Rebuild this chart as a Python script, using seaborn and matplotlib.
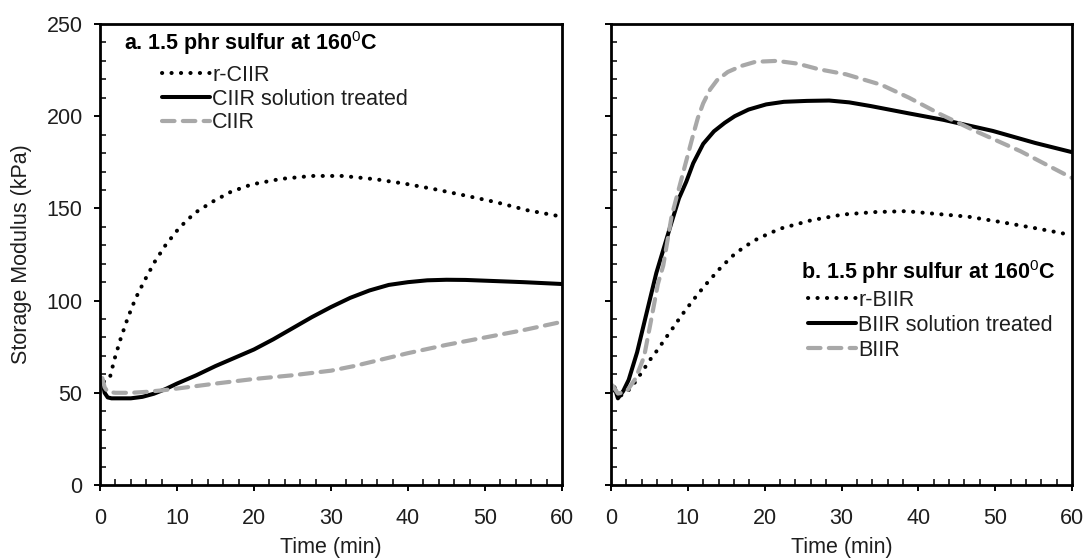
import numpy as np
import pandas as pd
import matplotlib
matplotlib.use("Agg")
import matplotlib.pyplot as plt
from matplotlib.ticker import MultipleLocator
import seaborn as sns

# ---- data (panel a) ----
t_rciir = [0.5, 1.25, 1.9, 2.7, 3.6, 4.6, 5.8, 7.1, 8.5, 10.3, 12.3, 14.6, 17.0, 19.7, 23.5,
           27.5, 31.5, 35.8, 39.6, 43.6, 47.4, 51.4, 55.5, 60]
v_rciir = [56, 57.7, 68.5, 79.6, 90.5, 101, 111, 121, 130, 139.5, 147.5, 153.6, 159, 163, 166,
           167.6, 167.6, 165.8, 163.4, 160.3, 157, 153.4, 149, 145.5]
t_ciir_sol = [0.3, 0.6, 1.0, 1.5, 2.5, 4, 5.5, 7, 8.5, 10, 12.5, 15, 17.5, 20, 22.5, 25, 27.5,
              30, 32.5, 35, 37.5, 40, 42.5, 45, 47.5, 50, 55, 60]
v_ciir_sol = [57, 50, 47.5, 47, 47, 47, 47.8, 49.5, 52, 55, 59.5, 64.5, 69, 73.5, 79, 85, 91,
              96.5, 101.5, 105.5, 108.5, 110, 111, 111.3, 111.2, 110.8, 110, 109]
t_ciir = [0.3, 0.6, 1.0, 2, 4, 6, 8, 10, 15, 20, 25, 30, 33, 36, 40, 45, 50, 55, 60]
v_ciir = [58, 53, 50.5, 50, 50, 50.5, 51.3, 52.3, 55, 57.5, 59.5, 62, 64.5, 67.5, 71.5, 76, 80,
          84, 88.5]

# ---- data (panel b) ----
t_rbiir = [0.5, 1.0, 2.0, 3.0, 3.9, 5.1, 6.1, 7.0, 8.2, 9.1, 10, 11.3, 12.5, 14.3, 15.9, 17.3,
           19.1, 22, 26.1, 30.2, 34.3, 38.4, 42.4, 46.5, 50.6, 55.6, 60]
v_rbiir = [51, 48, 50, 55, 60.5, 68, 73.5, 79, 86, 91.5, 96.5, 103.5, 109.5, 118, 124.5, 129,
           133.6, 139, 143.6, 146.7, 148, 148.5, 147, 145.5, 142.7, 139, 135.5]
t_biir_sol = [0.45, 0.9, 1.6, 2.3, 3.4, 4.5, 5.9, 7.9, 8.85, 9.8, 10.7, 12.0, 13.4, 14.8, 16.1,
              17.9, 20.2, 22.5, 25.5, 28.4, 31, 33.8, 38.8, 43.3, 49.7, 55.2, 60]
v_biir_sol = [53, 47, 51, 57, 72, 91, 115, 142.7, 155.5, 164.5, 174.5, 185, 191.8, 196.4, 200,
              203.6, 206.4, 207.8, 208.3, 208.5, 207.5, 205.5, 201.5, 198, 192, 185.5, 180.5]
t_biir = [0.2, 0.9, 2.0, 3.2, 4.3, 5.2, 6.1, 6.8, 7.9, 9.3, 10.7, 11.3, 12.0, 12.9, 13.8, 15.2,
          17.0, 18.8, 21.6, 24.3, 27, 30.6, 35.2, 38.8, 42.9, 47.4, 53.3, 60]
v_biir = [54, 49.6, 50.5, 57.8, 69.5, 89, 109, 119, 146, 168, 190, 199, 207, 214.5, 219.5, 224,
          227.3, 229.5, 230, 228.5, 225.5, 222.7, 217, 210, 201, 192, 181, 166.5]

labels_a = ["r-CIIR", "CIIR solution treated", "CIIR"]
labels_b = ["r-BIIR", "BIIR solution treated", "BIIR"]
title_a = r"a. 1.5 phr sulfur at 160$^{0}$C"
title_b = r"b. 1.5 phr sulfur at 160$^{0}$C"

sns.set_theme(style="ticks")
plt.rcParams["font.family"] = ["Liberation Sans", "DejaVu Sans"]
plt.rcParams["mathtext.fontset"] = "custom"
plt.rcParams["mathtext.rm"] = "Liberation Sans"
plt.rcParams["mathtext.it"] = "Liberation Sans"
plt.rcParams["mathtext.bf"] = "Liberation Sans:bold"

FS = 15.5
GRAY = "#a8a8a8"
TXT = "#1e1e1e"
styles = [
    dict(color="black", lw=2.9, linestyle=(0, (0.05, 2.3)), solid_capstyle="round",
         dash_capstyle="round"),
    dict(color="black", lw=2.9, linestyle="-"),
    dict(color=GRAY, lw=3.0, linestyle=(0, (3.0, 2.0)), dash_capstyle="round"),
]

fig = plt.figure(figsize=(10.86, 5.6), dpi=100)
ax1 = fig.add_axes([100/1086, 1-485/560, 462/1086, 461/560])
ax2 = fig.add_axes([611/1086, 1-485/560, 461/1086, 461/560])

series_a = [(t_rciir, v_rciir), (t_ciir_sol, v_ciir_sol), (t_ciir, v_ciir)]
series_b = [(t_rbiir, v_rbiir), (t_biir_sol, v_biir_sol), (t_biir, v_biir)]

for ax, series, labels in [(ax1, series_a, labels_a), (ax2, series_b, labels_b)]:
    for (t, v), lab, st in zip(series, labels, styles):
        df = pd.DataFrame({"t": t, "v": v})
        sns.lineplot(data=df, x="t", y="v", ax=ax, label=lab, estimator=None, sort=False, **st)
    ax.set_xlim(0, 60)
    ax.set_ylim(0, 250)
    ax.xaxis.set_major_locator(MultipleLocator(10))
    ax.xaxis.set_minor_locator(MultipleLocator(2))
    ax.yaxis.set_major_locator(MultipleLocator(50))
    ax.yaxis.set_minor_locator(MultipleLocator(10))
    ax.tick_params(which="major", direction="out", length=4.5, width=1.4, color="black",
                   labelsize=FS, labelcolor=TXT)
    ax.tick_params(axis="x", which="major", pad=12)
    ax.tick_params(axis="y", which="major", pad=8)
    ax.tick_params(which="minor", direction="in", length=4, width=1.1, color="black")
    for s in ax.spines.values():
        s.set_visible(True)
        s.set_linewidth(2.0)
        s.set_color("black")
    ax.set_xlabel("Time (min)", fontsize=FS, color=TXT, labelpad=6)
    ax.set_ylabel("")

ax1.set_ylabel("Storage Modulus (kPa)", fontsize=FS, color=TXT, labelpad=10)
ax2.tick_params(axis="y", labelleft=False)

# legends
ax1.text(0.052, 0.959, title_a, transform=ax1.transAxes, fontsize=FS, fontweight="bold",
         color="black", va="center", ha="left")
leg1 = ax1.legend(loc="upper left", bbox_to_anchor=(0.134, 0.911), frameon=False, fontsize=FS,
                  handlelength=2.25, handletextpad=0.08, labelspacing=0.12, borderpad=0,
                  borderaxespad=0)
ax2.text(0.412, 0.462, title_b, transform=ax2.transAxes, fontsize=FS, fontweight="bold",
         color="black", va="center", ha="left")
leg2 = ax2.legend(loc="upper left", bbox_to_anchor=(0.427, 0.423), frameon=False, fontsize=FS,
                  handlelength=2.25, handletextpad=0.08, labelspacing=0.18, borderpad=0,
                  borderaxespad=0)
for leg in (leg1, leg2):
    for txt in leg.get_texts():
        txt.set_color(TXT)

fig.savefig("out.png", dpi=100)
